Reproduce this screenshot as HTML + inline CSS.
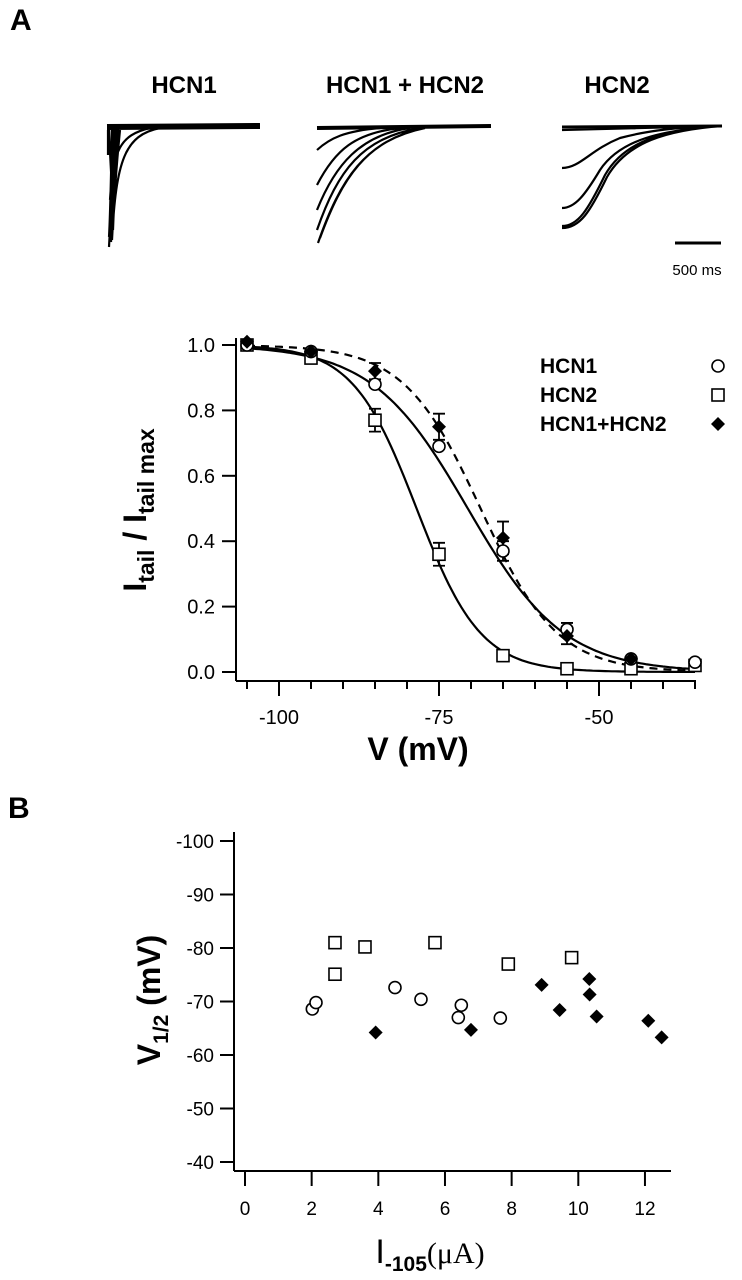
<!DOCTYPE html>
<html><head><meta charset="utf-8"><style>
body{margin:0;background:#fff;}
svg{display:block;font-family:"Liberation Sans",sans-serif;}
</style></head><body>
<svg id="fig" width="742" height="1280" viewBox="0 0 742 1280">
<text x="10" y="30" font-size="30" font-weight="bold">A</text>
<text x="8" y="818" font-size="30" font-weight="bold">B</text>
<g font-size="24" font-weight="bold" text-anchor="middle">
<text x="184" y="93">HCN1</text>
<text x="405" y="93">HCN1 + HCN2</text>
<text x="617" y="93">HCN2</text>
</g>
<g fill="none" stroke="#000" stroke-width="2.2">
<path d="M107,127 L260,126" stroke-width="6"/>
<path d="M108,130 L108,155 M109,128 C110,160 112,180 112,200 M112,128 C111,180 110,220 109,237 M114,128 C112,190 110,230 109,247 M116,128 C114,190 112,225 111,242 M118,129 C115,185 113,220 112,240 M120,130 C116,170 114,200 113,230 M110,200 C113,150 120,135 150,128 M112,240 C116,160 125,135 160,128"/>
<path d="M317,128 L491,126" stroke-width="4"/>
<path d="M317,150 C330,138 345,131 380,128 M317,185 C335,150 355,133 400,128 M317,210 C335,165 360,135 410,128 M317,230 C338,170 362,138 420,128 M318,243 C340,180 365,140 425,128 M320,238 C342,178 366,140 425,128"/>
<path d="M562,127 L722,126" stroke-width="3"/>
<path d="M562,130 C600,129 640,128 722,126 M562,168 C580,168 590,150 620,138 C650,130 680,127 722,126 M562,208 C575,208 585,195 600,170 C620,140 660,130 722,126 M562,226 C578,226 588,210 605,175 C625,140 665,130 722,126 M562,228 C580,228 590,212 607,177 C627,142 667,130 722,126"/>
<line x1="675" y1="243" x2="721" y2="243" stroke-width="3"/>
</g>
<text x="697" y="275" font-size="15" text-anchor="middle">500 ms</text>
<g id="chartA"></g>
<g id="chartB"></g>
</svg>
<script>
const NS="http://www.w3.org/2000/svg";
// ---------- Chart A data ----------
const voltages=[-105,-95,-85,-75,-65,-55,-45,-35];
const hcn1Vals=[1.0,0.98,0.88,0.69,0.37,0.13,0.04,0.03];
const hcn2Vals=[1.0,0.96,0.77,0.36,0.05,0.01,0.01,0.02];
const hcn12Vals=[1.01,0.98,0.92,0.75,0.41,0.11,0.04,null];
const hcn12Err=[0,0,0.025,0.04,0.05,0.025,0,0];
const hcn2ErrB=[0,0,0.035,0.035,0,0,0,0];
const hcn1Err=[0,0,0,0,0.03,0.02,0,0];
const fitHalf=[-70.5,-78.5,-68.5];
const fitSlope=[7.5,5,6];
const xTicksA=[-100,-75,-50];
const yTicksA=[0,0.2,0.4,0.6,0.8,1.0];
const yTickLabelsA=["0.0","0.2","0.4","0.6","0.8","1.0"];
// ---------- Chart B data ----------
const hcn1I=[2.02,2.13,4.5,5.28,6.49,6.4,7.66];
const hcn1V=[-68.6,-69.8,-72.6,-70.4,-69.3,-67.0,-66.9];
const hcn2I=[2.7,2.7,3.6,5.7,7.9,9.8];
const hcn2V=[-81,-75.1,-80.2,-81,-77,-78.2];
const hcn12I=[3.92,6.78,8.9,9.44,10.33,10.34,10.55,12.1,12.5];
const hcn12V=[-64.2,-64.7,-73.1,-68.4,-74.2,-71.3,-67.2,-66.4,-63.3];
const xTicksB=[0,2,4,6,8,10,12];
const yTicksB=[-100,-90,-80,-70,-60,-50,-40];

function el(tag,attrs,parent){const e=document.createElementNS(NS,tag);for(const k in attrs)e.setAttribute(k,attrs[k]);parent.appendChild(e);return e;}
function circle(p,x,y,name){const e=el('circle',{cx:x,cy:y,r:6,fill:'#fff',stroke:'#000','stroke-width':1.6},p);}
function square(p,x,y,name){const e=el('rect',{x:x-6,y:y-6,width:12,height:12,fill:'#fff',stroke:'#000','stroke-width':1.6},p);}
function diamond(p,x,y,name){const e=el('path',{d:`M${x},${y-7}L${x+7},${y}L${x},${y+7}L${x-7},${y}Z`,fill:'#000'},p);}

// ---------- Chart A ----------
const A=document.getElementById('chartA');
const ax=v=>279+(v+100)*6.4;
const ay=v=>672-v*327;
let l=el('line',{x1:236,y1:338,x2:236,y2:681,stroke:'#000','stroke-width':2},A);


l=el('line',{x1:236,y1:681,x2:696,y2:681,stroke:'#000','stroke-width':2},A);


for(let v=-105;v<=-35;v+=5){const major=(v%25===0);
 const t=el('line',{x1:ax(v),y1:681,x2:ax(v),y2:major?696:689,stroke:'#000','stroke-width':2},A);
 
 }
xTicksA.forEach(v=>{const t=el('text',{x:ax(v),y:724,'font-size':20,'text-anchor':'middle'},A);t.textContent=v;
 
 });
yTicksA.forEach((v,i)=>{const t=el('line',{x1:222,y1:ay(v),x2:236,y2:ay(v),stroke:'#000','stroke-width':2},A);
 
 
 const tx=el('text',{x:215,y:ay(v)+7,'font-size':20,'text-anchor':'end'},A);tx.textContent=yTickLabelsA[i];
 
 });
const fitNames=['fit-hcn1','fit-hcn2','fit-hcn1-hcn2'];
fitHalf.forEach((h,i)=>{let d='';for(let v=-105;v<=-35;v+=0.5){const f=1/(1+Math.exp((v-h)/fitSlope[i]));d+=(d?'L':'M')+ax(v).toFixed(1)+','+ay(f).toFixed(1);}
 const p=el('path',{d:d,fill:'none',stroke:'#000','stroke-width':2.2},A);
 if(i===2)p.setAttribute('stroke-dasharray','8,6');
 
 });
function errbar(x,v,e,name){if(!e)return;const g=el('path',{d:`M${x},${ay(v+e)}V${ay(v-e)}M${x-6},${ay(v+e)}H${x+6}M${x-6},${ay(v-e)}H${x+6}`,stroke:'#000','stroke-width':1.8,fill:'none'},A);
 
 }
voltages.forEach((v,i)=>{
 errbar(ax(v),hcn2Vals[i],hcn2ErrB[i],'error-bar-hcn2');
 errbar(ax(v),hcn1Vals[i],hcn1Err[i],'error-bar-hcn1');
 if(hcn12Vals[i]!==null)errbar(ax(v),hcn12Vals[i],hcn12Err[i],'error-bar-hcn1-hcn2');
 square(A,ax(v),ay(hcn2Vals[i]),'point-hcn2');
 circle(A,ax(v),ay(hcn1Vals[i]),'point-hcn1');
 if(hcn12Vals[i]!==null)diamond(A,ax(v),ay(hcn12Vals[i]),'point-hcn1-hcn2');});
const leg=[['HCN1',366],['HCN2',395],['HCN1+HCN2',424]];
leg.forEach((e,i)=>{const t=el('text',{x:540,y:e[1]+7,'font-size':21,'font-weight':'bold'},A);t.textContent=e[0];
 
 
 if(i===0)circle(A,718,e[1],'legend-marker-hcn1');
 if(i===1)square(A,718,e[1],'legend-marker-hcn2');
 if(i===2)diamond(A,718,e[1],'legend-marker-hcn1-hcn2');});
let yt=el('text',{transform:'translate(146,510) rotate(-90)','text-anchor':'middle','font-size':32,'font-weight':'bold'},A);
yt.innerHTML='I<tspan font-size="23" dy="8">tail</tspan><tspan dy="-8"> / I</tspan><tspan font-size="23" dy="8">tail max</tspan>';


let xt=el('text',{x:418,y:760,'text-anchor':'middle','font-size':32,'font-weight':'bold'},A);xt.textContent='V (mV)';



// ---------- Chart B ----------
const B=document.getElementById('chartB');
const bx=v=>245+v*33.33;
const by=v=>1162-(v+40)*(-5.35);
l=el('line',{x1:234,y1:832,x2:234,y2:1171,stroke:'#000','stroke-width':2},B);


l=el('line',{x1:234,y1:1171,x2:671,y2:1171,stroke:'#000','stroke-width':2},B);


xTicksB.forEach(v=>{const t=el('line',{x1:bx(v),y1:1171,x2:bx(v),y2:1186,stroke:'#000','stroke-width':2},B);
 
 
 const tx=el('text',{x:bx(v),y:1215,'font-size':19,'text-anchor':'middle'},B);tx.textContent=v;
 
 });
yTicksB.forEach(v=>{const t=el('line',{x1:220,y1:by(v),x2:234,y2:by(v),stroke:'#000','stroke-width':2},B);
 
 
 const tx=el('text',{x:214,y:by(v)+7,'font-size':19,'text-anchor':'end'},B);tx.textContent=v;
 
 });
hcn2I.forEach((v,i)=>square(B,bx(v),by(hcn2V[i]),'point-hcn2'));
hcn1I.forEach((v,i)=>circle(B,bx(v),by(hcn1V[i]),'point-hcn1'));
hcn12I.forEach((v,i)=>diamond(B,bx(v),by(hcn12V[i]),'point-hcn1-hcn2'));
yt=el('text',{transform:'translate(160,1000) rotate(-90)','text-anchor':'middle','font-size':32,'font-weight':'bold'},B);
yt.innerHTML='V<tspan font-size="21" dy="8">1/2</tspan><tspan dy="-8"> (mV)</tspan>';


xt=el('text',{x:430,y:1263,'text-anchor':'middle','font-size':34},B);
xt.innerHTML='I<tspan font-size="21" font-weight="bold" dy="8">-105</tspan><tspan dy="-8" font-family="Liberation Serif" font-size="30">(μA)</tspan>';


</script>
</body></html>
